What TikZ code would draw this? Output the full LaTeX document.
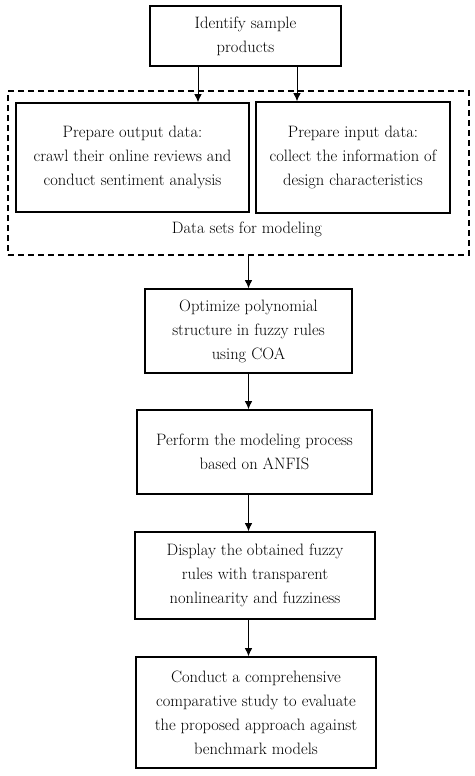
\documentclass[tikz,border=0pt]{standalone}
\usepackage{tikz}
\usetikzlibrary{arrows.meta, positioning}

\begin{document}
\begin{tikzpicture}[x=1pt,y=-1pt]
\tikzset{
    stage/.style={draw, line width=1.6pt, align=center, inner sep=0pt,
        font=\fontsize{16.5}{24}\selectfont},
    flow/.style={-{Latex[length=8pt,width=7.5pt]}, line width=0.9pt}
}
\useasboundingbox (0,0) rectangle (474,776);

% Steps
\node[stage, minimum width=191pt, minimum height=60pt] (prod) at (245.5,36)
    {Identify sample\\products};

\node[draw, dashed, line width=1.6pt, dash pattern=on 6pt off 4pt,
      minimum width=461pt, minimum height=164pt] (datasets) at (238.5,173){};
\node[stage, minimum width=233pt, minimum height=109pt] (outdata) at (132.5,157.5)
    {Prepare output data:\\crawl their online reviews and\\conduct sentiment analysis};
\node[stage, minimum width=194pt, minimum height=111pt] (indata) at (353,157.5)
    {Prepare input data:\\collect the information of\\design characteristics};
\node[font=\fontsize{16.5}{24}\selectfont] (dslabel) at (247,229) {Data sets for modeling};

\node[stage, minimum width=207pt, minimum height=84pt] (coa) at (248.5,331)
    {Optimize polynomial\\structure in fuzzy rules\\using COA};
\node[stage, minimum width=235pt, minimum height=84pt] (anfis) at (254.5,452)
    {Perform the modeling process\\based on ANFIS};
\node[stage, minimum width=240pt, minimum height=87pt] (rules) at (255,575.5)
    {Display the obtained fuzzy\\rules with transparent\\nonlinearity and fuzziness};
\node[stage, minimum width=240pt, minimum height=111pt] (study) at (256,712.5)
    {Conduct a comprehensive\\comparative study to evaluate\\the proposed approach against\\benchmark models};

% Arrows
\draw[flow] ([xshift=-47.5pt]prod.south) -- ([xshift=-47.5pt]prod.south |- outdata.north);
\draw[flow] ([xshift=51.5pt]prod.south) -- ([xshift=51.5pt]prod.south |- indata.north);
\draw[flow] (coa.north |- datasets.south) -- (coa.north);
\draw[flow] (coa.south) -- (coa.south |- anfis.north);
\draw[flow] (coa.south |- anfis.south) -- (coa.south |- rules.north);
\draw[flow] (coa.south |- rules.south) -- (coa.south |- study.north);

\end{tikzpicture}
\end{document}
